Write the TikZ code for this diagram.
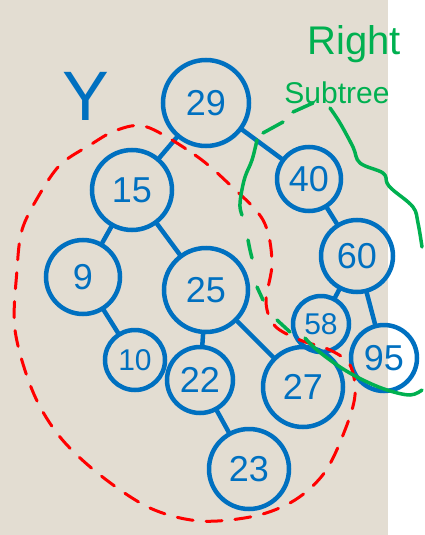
\documentclass[tikz,border=0pt]{standalone}
\usepackage{fontspec}
\setmainfont{Liberation Sans}
\definecolor{boardbeige}{HTML}{E3DDD2}
\definecolor{penblue}{HTML}{0070C0}
\definecolor{penred}{HTML}{FF0000}
\definecolor{pengreen}{HTML}{00B050}
\tikzset{
  treenode/.style={circle, draw=penblue, line width=4.5pt, text=penblue,
    inner sep=0pt, font=\fontsize{36}{36}\selectfont},
  treeedge/.style={draw=penblue, line width=4.5pt, line cap=round},
  redmark/.style={draw=penred, line width=3pt, line cap=round},
  greenmark/.style={draw=pengreen, line width=3.5pt, line cap=round},
}

\begin{document}
\begin{tikzpicture}[x=1pt, y=-1pt]
    % board
    \fill[white] (0,0) rectangle (424,535);
    \fill[boardbeige] (0,0) rectangle (388,535);
    \useasboundingbox (0,0) rectangle (424,535);

    % tree
    \node[treenode, minimum size=86pt] (n29) at (206,103) {29};
    \node[treenode, minimum size=80pt] (n15) at (132,190) {15};
    \node[treenode, minimum size=64pt] (n40) at (309,179) {40};
    \node[treenode, minimum size=74pt] (n9) at (83,277) {9};
    \node[treenode, minimum size=84pt] (n25) at (206,290) {25};
    \node[treenode, minimum size=72pt] (n60) at (357,256) {60};
    \node[treenode, minimum size=60pt, font=\fontsize{30}{30}\selectfont] (n10) at (135,360) {10};
    \node[treenode, minimum size=66pt] (n22) at (200,380) {22};
    \node[treenode, minimum size=80pt] (n27) at (303,387) {27};
    \node[treenode, minimum size=56pt, font=\fontsize{30}{30}\selectfont] (n58) at (321,324) {58};
    \node[treenode, minimum size=66pt] (n95) at (384,358) {95};
    \node[treenode, minimum size=80pt] (n23) at (249,469) {23};

    \draw[treeedge] (n29) -- (n15);
    \draw[treeedge] (n29) -- (n40);
    \draw[treeedge] (n15) -- (n9);
    \draw[treeedge] (n15) -- (n25);
    \draw[treeedge] (n40) -- (n60);
    \draw[treeedge] (n9) -- (n10);
    \draw[treeedge] (n25) -- (n22);
    \draw[treeedge] (n25) -- (n27);
    \draw[treeedge] (n60) -- (n58);
    \draw[treeedge] (n60) -- (n95);
    \draw[treeedge] (n22) -- (n23);

    % labels
    \node[text=penblue, font=\fontsize{70}{70}\selectfont] (ylabel) at (86,96) {Y};
    \node[text=pengreen, inner sep=0pt, font=\fontsize{40}{40}\selectfont] (rlabel) at (354,44) {Right};
    \node[text=pengreen, inner sep=0pt, font=\fontsize{30}{30}\selectfont] (slabel) at (337,93) {Subtree};

    % left subtree loop
    \draw[redmark, dash pattern=on 16pt off 13pt] plot[smooth cycle, tension=0.55] coordinates {
      (147,127) (195,155) (228,183) (263,220) (272,262) (266,302) (275,326)
      (300,340) (330,350) (350,365) (355,395) (345,430) (325,472) (295,500)
      (255,516) (200,521) (150,508) (100,475) (60,437) (33,392) (15,330)
      (17,270) (22,230) (38,197) (60,165) (90,145) (117,130)};

    % right subtree marks
    \draw[greenmark] plot[smooth, tension=0.6] coordinates {(293,112) (313,103)};
    \draw[greenmark] plot[smooth, tension=0.6] coordinates {(263,133) (283,122)};
    \draw[greenmark] plot[smooth, tension=0.6] coordinates {
      (257,140) (252,160) (245,177) (241,195) (240,207) (242,215)};
    \draw[greenmark] plot[smooth, tension=0.6] coordinates {(248,240) (250,250) (252,258)};
    \draw[greenmark] plot[smooth, tension=0.6] coordinates {(257,287) (263,300)};
    \draw[greenmark] plot[smooth, tension=0.6] coordinates {(277,320) (290,332)};
    \draw[greenmark] plot[smooth, tension=0.6] coordinates {
      (305,338) (317,350) (340,367) (363,380) (387,390) (410,395) (422,390)};
    \draw[greenmark] plot[smooth, tension=0.6] coordinates {
      (330,108) (340,123) (353,147) (360,163) (383,173) (387,183) (393,190)
      (413,207) (418,223) (422,247)};
\end{tikzpicture}
\end{document}
